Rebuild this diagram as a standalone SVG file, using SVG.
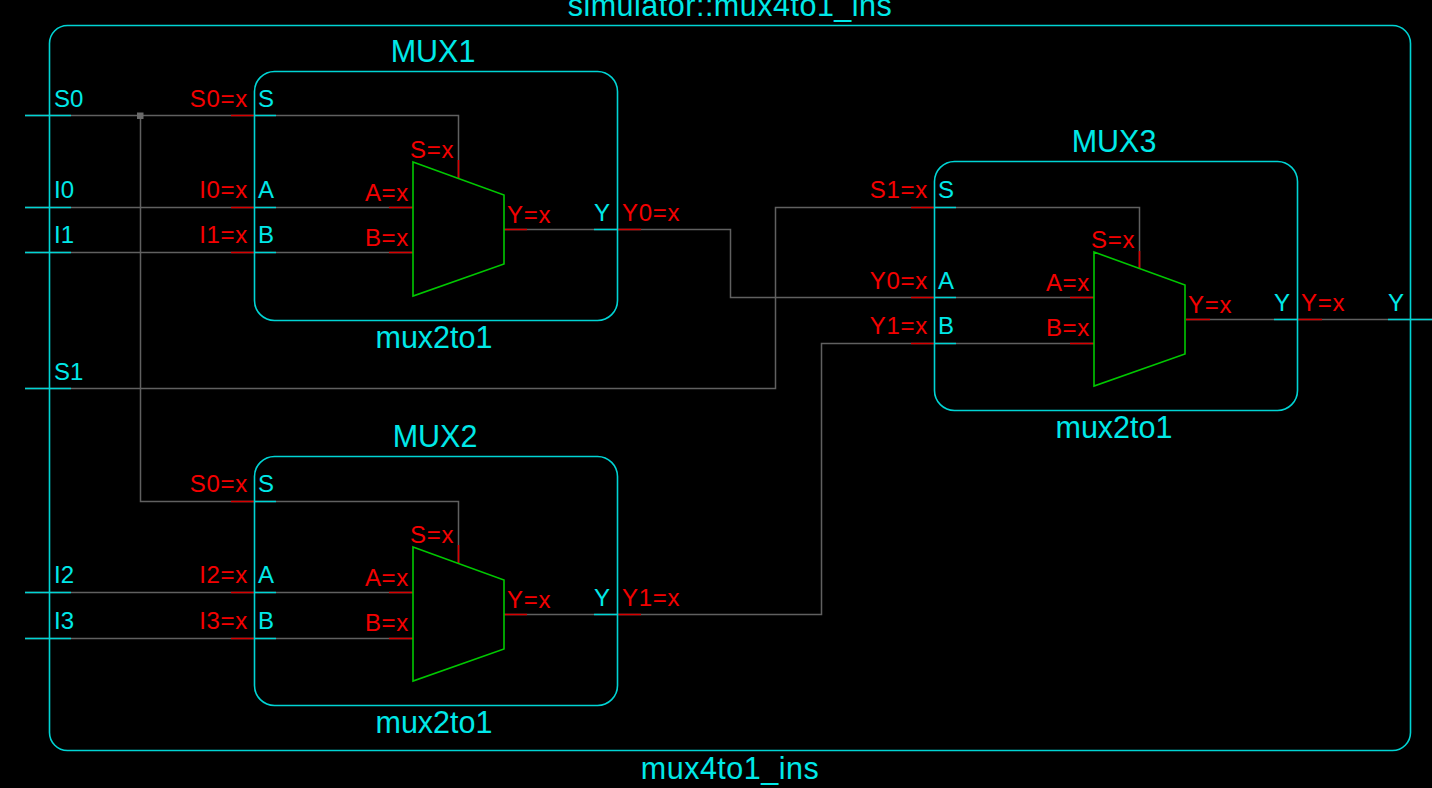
<svg xmlns="http://www.w3.org/2000/svg" width="1432" height="788" viewBox="0 0 1432 788">
<style>
text{font-family:"Liberation Sans",Arial,sans-serif;font-size:24px}
.c{fill:#00e8e8}.r{fill:#f40000;letter-spacing:.7px}
.big{font-size:30.5px;text-anchor:middle}
.e{text-anchor:end}
.box{fill:none;stroke:#00d4d4;stroke-width:1.6}
.g{fill:none;stroke:#00c800;stroke-width:1.6}
.w{fill:none;stroke:#606060;stroke-width:1.5}
.sr{fill:none;stroke:#d80000;stroke-width:1.6}
.sc{fill:none;stroke:#00d4d4;stroke-width:1.6}
</style>
<rect width="1432" height="788" fill="#000"/>
<g id="connectors">
<path class="w" d="M25 115.500H458.500V178M140.500 115.500V501.500H458.500V563M25 207.500H413M25 252.500H413M25 388.500H775.500V207.500H1139.500V268M504 229.500H730.500V297.500H1094M504 614.500H821.500V343.500H1094M25 592.500H413M25 638.500H413M1186 319.500H1432"/>
<path class="sc" d="M25 115.500H71M25 207.500H71M25 252.500H71M25 388.500H71M25 592.500H71M25 638.500H71M254 115.500H276M254 207.500H276M254 252.500H276M254 501.500H276M254 592.500H276M254 638.500H276M594 229.500H618M594 614.500H618M934 207.500H956M934 297.500H956M934 343.500H956M1274 319.500H1298M1388 319.500H1432"/>
<path class="sr" d="M231 115.500H254M231 207.500H254M231 252.500H254M231 501.500H254M231 592.500H254M231 638.500H254M389 207.500H413M389 252.500H413M389 592.500H413M389 638.500H413M504 229.500H527M504 614.500H527M618 229.500H641M618 614.500H641M458.500 160V178M458.500 545V563M911 207.500H934M911 297.500H934M911 343.500H934M1070 297.500H1094M1070 343.500H1094M1186 319.500H1210M1298 319.500H1322M1139.500 251V268"/>
<rect x="137" y="112.500" width="6.500" height="6.500" fill="#6a6a6a"/>
</g>
<g id="mux4to1_ins">
<rect class="box" x="49.500" y="25.500" width="1361" height="725" rx="18"/>
<text class="big c" x="730" y="16" style="letter-spacing:.5px">simulator::mux4to1_ins</text>
<text class="big c" x="730" y="779" style="letter-spacing:.5px">mux4to1_ins</text>
<text class="c" x="54" y="107">S0</text>
<text class="c" x="54" y="198">I0</text>
<text class="c" x="54" y="243">I1</text>
<text class="c" x="54" y="380">S1</text>
<text class="c" x="54" y="583">I2</text>
<text class="c" x="54" y="629">I3</text>
<text class="c" x="1388" y="311">Y</text>
</g>
<g id="MUX1">
<rect class="box" x="254.500" y="71.500" width="363" height="249" rx="20"/>
<path class="g" d="M413 162L504 195V264L413 296Z"/>
<text class="big c" x="433" y="62">MUX1</text>
<text class="big c" x="434" y="348">mux2to1</text>
<text class="r e" x="248" y="107">S0=x</text><text class="r e" x="248" y="198">I0=x</text><text class="r e" x="248" y="243">I1=x</text>
<text class="c" x="258" y="107">S</text><text class="c" x="258" y="198">A</text><text class="c" x="258" y="243">B</text>
<text class="r" x="410" y="158">S=x</text><text class="r e" x="409" y="201">A=x</text><text class="r e" x="409" y="246">B=x</text><text class="r" x="507" y="223">Y=x</text>
<text class="c" x="594" y="221">Y</text><text class="r" x="622" y="221">Y0=x</text>
</g>
<g id="MUX2">
<rect class="box" x="254.500" y="456.500" width="363" height="249" rx="20"/>
<path class="g" d="M413 547L504 580V649L413 681Z"/>
<text class="big c" x="435" y="447">MUX2</text>
<text class="big c" x="434" y="733">mux2to1</text>
<text class="r e" x="248" y="492">S0=x</text><text class="r e" x="248" y="583">I2=x</text><text class="r e" x="248" y="629">I3=x</text>
<text class="c" x="258" y="492">S</text><text class="c" x="258" y="583">A</text><text class="c" x="258" y="629">B</text>
<text class="r" x="410" y="543">S=x</text><text class="r e" x="409" y="586">A=x</text><text class="r e" x="409" y="631">B=x</text><text class="r" x="507" y="608">Y=x</text>
<text class="c" x="594" y="606">Y</text><text class="r" x="622" y="606">Y1=x</text>
</g>
<g id="MUX3">
<rect class="box" x="934.500" y="161.500" width="363" height="249" rx="20"/>
<path class="g" d="M1094 252L1185 285V354L1094 386Z"/>
<text class="big c" x="1114" y="152">MUX3</text>
<text class="big c" x="1114" y="438">mux2to1</text>
<text class="r e" x="928" y="198">S1=x</text><text class="r e" x="928" y="289">Y0=x</text><text class="r e" x="928" y="334">Y1=x</text>
<text class="c" x="938" y="198">S</text><text class="c" x="938" y="289">A</text><text class="c" x="938" y="334">B</text>
<text class="r" x="1091" y="248">S=x</text><text class="r e" x="1090" y="291">A=x</text><text class="r e" x="1090" y="336">B=x</text><text class="r" x="1188" y="313">Y=x</text>
<text class="c" x="1274" y="311">Y</text><text class="r" x="1301" y="311">Y=x</text>
</g>
</svg>
